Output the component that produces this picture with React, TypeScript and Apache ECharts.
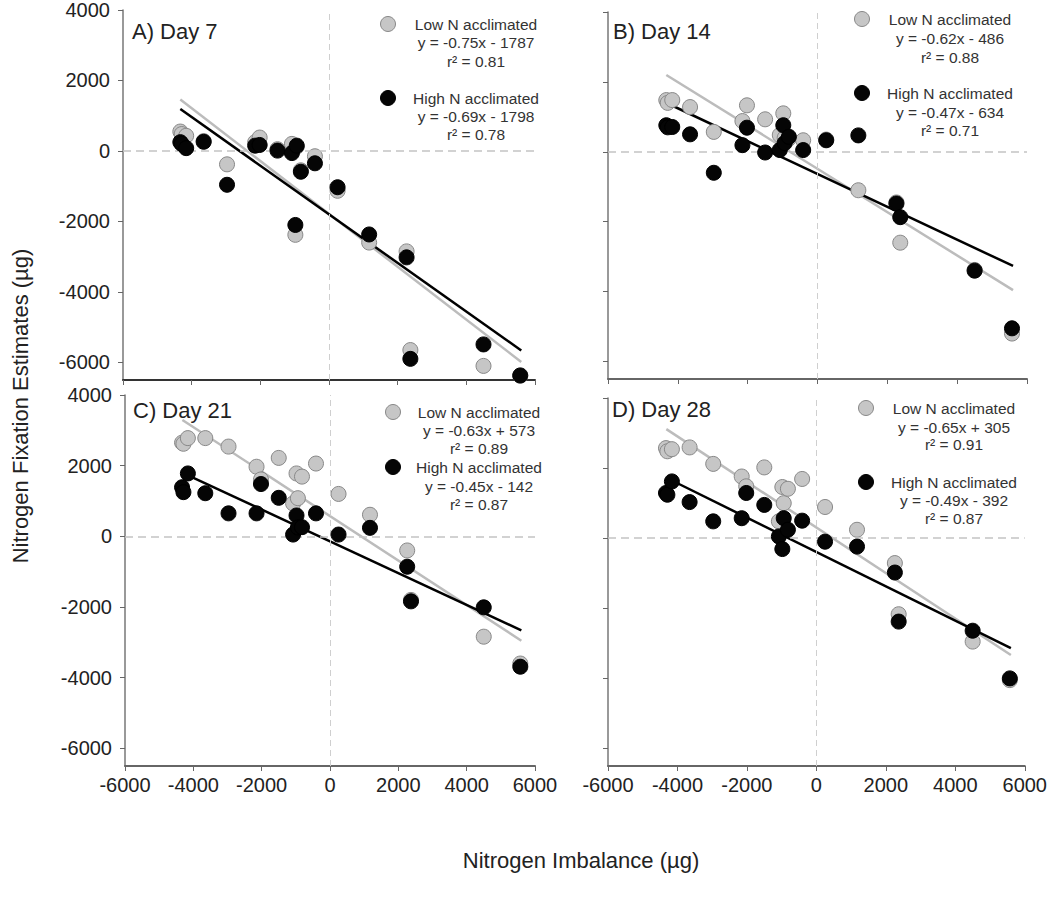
import React, { useEffect, useRef } from "react";
import * as echarts from "echarts";

// Shared nitrogen imbalance values (µg)
const imbalance = [-4330, -4290, -4160, -3650, -2970, -2150, -2020, -1500, -1080, -980, -940, -820, -410, 250, 1170, 2260, 2370, 4500, 5570];

// Nitrogen fixation estimates (µg) per day
const lowDay7 = [550, 480, 430, 280, -380, 250, 380, 50, 200, -2380, 120, -550, -150, -1130, -2600, -2850, -5650, -6100, -6380];
const highDay7 = [250, 200, 80, 260, -960, 150, 170, 10, -60, -2100, 150, -590, -350, -1030, -2370, -3020, -5900, -5490, -6370];
const lowDay14 = [1480, 1400, 1480, 1280, 570, 880, 1330, 930, 480, 1100, 400, 380, 330, 350, -1100, -1450, -2600, -3380, -5200];
const highDay14 = [760, 700, 710, 500, -600, 190, 690, -20, 50, 760, 250, 430, 50, 330, 470, -1480, -1870, -3400, -5050];
const lowDay21 = [2650, 2620, 2780, 2780, 2540, 1970, 1610, 2220, 930, 1780, 1080, 1690, 2060, 1200, 610, -400, -1800, -2840, -3600];
const highDay21 = [1390, 1250, 1780, 1220, 650, 650, 1480, 1090, 50, 590, 250, 260, 650, 50, 240, -860, -1840, -2010, -3690];
const lowDay28 = [2570, 2480, 2540, 2590, 2120, 1760, 1480, 2020, 480, 1460, 1000, 1410, 1690, 890, 240, -710, -2170, -2950, -4050];
const highDay28 = [1290, 1240, 1620, 1030, 480, 570, 1290, 950, 50, -310, 570, 240, 500, -100, -240, -980, -2380, -2640, -4000];

const panelTitles = ["A) Day 7", "B) Day 14", "C) Day 21", "D) Day 28"];
const slopeLow = [-0.75, -0.62, -0.63, -0.65];
const interceptLow = [-1787, -486, 573, 305];
const r2Low = ["0.81", "0.88", "0.89", "0.91"];
const slopeHigh = [-0.69, -0.47, -0.45, -0.49];
const interceptHigh = [-1798, -634, -142, -392];
const r2High = ["0.78", "0.71", "0.87", "0.87"];
const lineStartLow = [-4330, -4330, -4320, -4320];
const lineStartHigh = [-4330, -4320, -4170, -4130];
const lineEnd = [5600, 5600, 5600, 5600];

const yTicks = [-6000, -4000, -2000, 0, 2000, 4000];

const FONT = "'Liberation Sans', Arial, Helvetica, sans-serif";

export default function App() {
  const ref = useRef<HTMLDivElement>(null);

  useEffect(() => {
    if (!ref.current) return;
    const chart = echarts.init(ref.current, null, { renderer: "svg" });

    const lows = [lowDay7, lowDay14, lowDay21, lowDay28];
    const highs = [highDay7, highDay14, highDay21, highDay28];

    const grids = [
      { left: 123, top: 10, width: 412, height: 370 },
      { left: 608, top: 12, width: 419, height: 367 },
      { left: 125, top: 395, width: 410, height: 371 },
      { left: 608, top: 398, width: 419, height: 368 },
    ];

    const legendPos = [
      { mx: 388, cx: 476, y: [24, 42, 61, 98, 116, 134] },
      { mx: 862, cx: 950, y: [19, 38, 57, 93, 112, 130] },
      { mx: 393, cx: 479, y: [412, 430, 448, 467, 486, 504] },
      { mx: 866, cx: 954, y: [408, 427, 444, 482, 500, 518] },
    ];
    const titlePos = [
      [132, 31],
      [613, 31],
      [133, 410],
      [612, 409],
    ];

    const xAxes: any[] = [];
    const yAxes: any[] = [];
    const series: any[] = [];
    const graphics: any[] = [];

    const eq = (m: number, b: number) =>
      `y = ${m.toFixed(2)}x ${b < 0 ? "-" : "+"} ${Math.abs(b)}`;
    const plain = (v: number) => String(v);

    for (let i = 0; i < 4; i++) {
      const bottomRow = i >= 2;
      const leftCol = i % 2 === 0;
      xAxes.push({
        gridIndex: i,
        type: "value",
        min: -6000,
        max: 6000,
        interval: 2000,
        splitLine: { show: false },
        axisLine: { onZero: false, lineStyle: { color: i === 0 ? "#333" : "#666", width: 2 } },
        axisTick: { show: true, inside: false, length: 5, lineStyle: { color: "#666", width: 1 } },
        axisLabel: {
          show: bottomRow,
          margin: 9,
          fontSize: 20,
          fontFamily: FONT,
          color: "#222",
          formatter: plain,
        },
      });
      yAxes.push({
        gridIndex: i,
        type: "value",
        min: -6500,
        max: 4000,
        splitLine: { show: false },
        axisLine: { onZero: false, lineStyle: { color: "#777", width: 1.5 } },
        axisTick: { show: true, inside: false, length: 5, customValues: yTicks, lineStyle: { color: "#666", width: 1 } },
        axisLabel: {
          show: leftCol,
          customValues: yTicks,
          margin: 13,
          fontSize: 20,
          fontFamily: FONT,
          color: "#222",
          formatter: plain,
        },
      });

      const lowPts = imbalance.map((x, k) => [x, lows[i][k]]);
      const highPts = imbalance.map((x, k) => [x, highs[i][k]]);
      const l0 = lineStartLow[i], l1 = lineEnd[i];
      const h0 = lineStartHigh[i], h1 = lineEnd[i];

      // zero reference lines
      series.push({
        type: "line",
        xAxisIndex: i,
        yAxisIndex: i,
        data: [],
        z: 1,
        silent: true,
        markLine: {
          silent: true,
          symbol: "none",
          label: { show: false },
          animation: false,
          data: [
            { xAxis: 0, lineStyle: { type: [6, 4], color: "#cfcfcf", width: 1 } },
            { yAxis: 0, lineStyle: { type: [8, 5], color: "#c4c4c4", width: 1.5 } },
          ],
        },
      });
      series.push({
        type: "line",
        xAxisIndex: i,
        yAxisIndex: i,
        data: [
          [l0, slopeLow[i] * l0 + interceptLow[i]],
          [l1, slopeLow[i] * l1 + interceptLow[i]],
        ],
        showSymbol: false,
        symbol: "none",
        lineStyle: { color: "#bcbcbc", width: 2.5 },
        z: 2,
        silent: true,
      });
      series.push({
        type: "line",
        xAxisIndex: i,
        yAxisIndex: i,
        data: [
          [h0, slopeHigh[i] * h0 + interceptHigh[i]],
          [h1, slopeHigh[i] * h1 + interceptHigh[i]],
        ],
        showSymbol: false,
        symbol: "none",
        lineStyle: { color: "#000", width: 2.5 },
        z: 3,
        silent: true,
      });
      series.push({
        type: "scatter",
        xAxisIndex: i,
        yAxisIndex: i,
        data: lowPts,
        symbolSize: 15,
        itemStyle: { color: "#c6c6c6", borderColor: "#888", borderWidth: 1, opacity: 1 },
        z: 4,
      });
      series.push({
        type: "scatter",
        xAxisIndex: i,
        yAxisIndex: i,
        data: highPts,
        symbolSize: 15,
        itemStyle: { color: "#050505", borderColor: "#000", borderWidth: 1, opacity: 1 },
        z: 5,
      });

      const lp = legendPos[i];
      const textStyle = (text: string, y: number) => ({
        type: "text",
        x: lp.cx,
        y,
        style: {
          text,
          fontSize: 15.5,
          fontFamily: FONT,
          fill: "#333",
          align: "center",
          verticalAlign: "middle",
        },
        z: 10,
      });
      graphics.push({
        type: "circle",
        shape: { cx: lp.mx, cy: lp.y[0], r: 7.5 },
        style: { fill: "#c6c6c6", stroke: "#888", lineWidth: 1 },
        z: 10,
      });
      graphics.push({
        type: "circle",
        shape: { cx: lp.mx, cy: lp.y[3], r: 7.5 },
        style: { fill: "#050505", stroke: "#000", lineWidth: 1 },
        z: 10,
      });
      graphics.push(textStyle("Low N acclimated", lp.y[0]));
      graphics.push(textStyle(eq(slopeLow[i], interceptLow[i]), lp.y[1]));
      graphics.push(textStyle(`r² = ${r2Low[i]}`, lp.y[2]));
      graphics.push(textStyle("High N acclimated", lp.y[3]));
      graphics.push(textStyle(eq(slopeHigh[i], interceptHigh[i]), lp.y[4]));
      graphics.push(textStyle(`r² = ${r2High[i]}`, lp.y[5]));

      graphics.push({
        type: "text",
        x: titlePos[i][0],
        y: titlePos[i][1],
        style: {
          text: panelTitles[i],
          fontSize: 22,
          fontFamily: FONT,
          fill: "#222",
          align: "left",
          verticalAlign: "middle",
        },
        z: 10,
      });
    }

    graphics.push({
      type: "text",
      x: 581,
      y: 860,
      style: {
        text: "Nitrogen Imbalance (µg)",
        fontSize: 22,
        fontFamily: FONT,
        fill: "#222",
        align: "center",
        verticalAlign: "middle",
      },
    });
    graphics.push({
      type: "text",
      x: 20,
      y: 406,
      rotation: Math.PI / 2,
      style: {
        text: "Nitrogen Fixation Estimates (µg)",
        fontSize: 22,
        fontFamily: FONT,
        fill: "#222",
        align: "center",
        verticalAlign: "middle",
      },
    });

    chart.setOption({
      animation: false,
      backgroundColor: "#fff",
      grid: grids,
      xAxis: xAxes,
      yAxis: yAxes,
      series,
      graphic: graphics,
    });

    return () => chart.dispose();
  }, []);

  return (
    <div
      ref={ref}
      style={{ position: "fixed", left: 0, top: 0, width: 1050, height: 902, background: "#fff" }}
    />
  );
}
